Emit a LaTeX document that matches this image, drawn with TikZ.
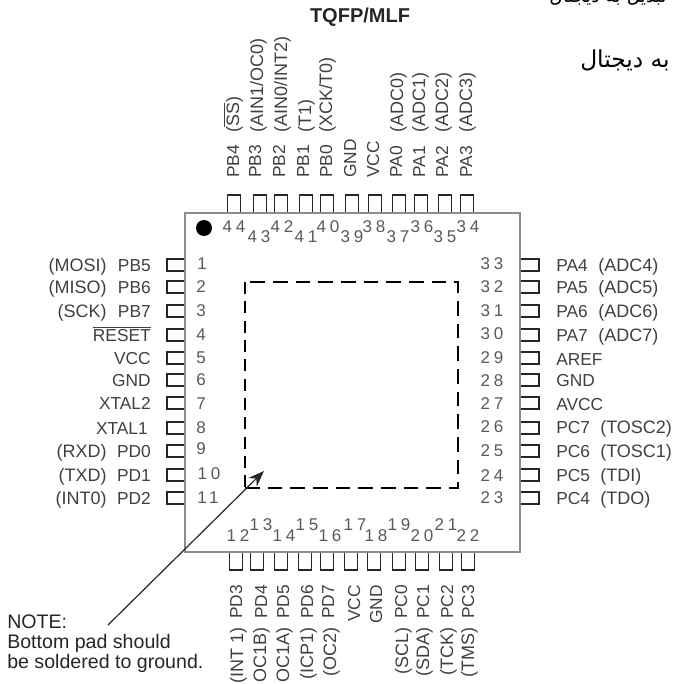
\documentclass[tikz,border=0pt]{standalone}
\usepackage{xcolor}
\usepackage{fontspec}
\setmainfont{Liberation Sans}
\newfontfamily\numfont[LetterSpace=22]{Liberation Sans}
\newfontfamily\arabicfont[Script=Arabic]{DejaVu Sans}
\TeXXeTstate=1
\usetikzlibrary{arrows.meta,positioning,calc}
\definecolor{pkggray}{gray}{0.55}
\definecolor{lblgray}{gray}{0.25}
\definecolor{numgray}{gray}{0.35}
\tikzset{
    pinbox/.style={draw=black!85,line width=0.9pt,fill=white},
    lbl/.style={inner sep=0pt,text=lblgray,font=\fontsize{13}{15}\selectfont},
    altlbl/.style={lbl,font=\fontsize{13.5}{15}\selectfont},
    vlbl/.style={rotate=90,anchor=base west},
    wlbl/.style={rotate=90,anchor=base east},
    pinnum/.style={inner sep=0pt,text=numgray,font=\fontsize{12.75}{15}\numfont},
    arabic/.style={inner sep=0pt,anchor=base east,text=black,font=\fontsize{17.5}{20}\arabicfont},
}
\begin{document}
\begin{tikzpicture}[x=0.75pt,y=-0.75pt]
    \useasboundingbox (0,0) rectangle (673,684);

    % Pins
    \foreach \x in {234,260,281,306,327,352,375,399,421,445,467}
        \draw [pinbox] (\x-6.5,195) rectangle (\x+6.5,213);
    \foreach \x in {236,257,281,305,327,351,374,399,422,446,468}
        \draw [pinbox] (\x-6.5,552) rectangle (\x+6.5,570);
    \foreach \y in {265,287,311,335,358,380,403,428,451,475,498} {
        \draw [pinbox] (167,\y-6) rectangle (185,\y+6);
        \draw [pinbox] (520,\y-6) rectangle (539,\y+6);
    }

    % Package and pad
    \draw [pkggray,line width=1.3pt] (185,213) rectangle (520,552);
    \fill [black] (204,228) circle (8);
    \draw [line width=1pt,dash pattern=on 11pt off 6pt] (245,488) -- (458,488) -- (458,282) -- (245,282);
    \draw [line width=1.8pt,dash pattern=on 9pt off 5.5pt] (245,282) -- (245,488);

    % Title
    \node (title) [inner sep=0pt,text=black!85,font=\fontsize{15}{18}\bfseries\selectfont] at (360,17) {TQFP/MLF};

    % Top labels
    \foreach \x/\n in {233/PB4,255/PB3,279/PB2,303/PB1,326/PB0,350/GND,373/VCC,396/PA0,419/PA1,442/PA2,466/PA3}
        \node (top\n) [lbl,vlbl] at (\x+6,178) {\n};
    \node (topss) [altlbl,vlbl] at (239,133) {($\overline{\mbox{SS}}$)};
    \foreach \x/\n/\t in {257/ain1/{(AIN1/OC0)},281/ain0/{(AIN0/INT2)},305/tone/{(T1)},326/xck/{(XCK/T0)},397/adc0/{(ADC0)},419/adc1/{(ADC1)},442/adc2/{(ADC2)},466/adc3/{(ADC3)}}
        \node (top\n) [altlbl,vlbl] at (\x+6,133) {\t};

    % Top numbers
    \foreach \x/\y/\n in {234/227/44,259/237/43,282/227/42,306/237/41,328/227/40,352/237/39,374/227/38,398/237/37,422/227/36,445/237/35,468/227/34}
        \node (num\n) [pinnum] at (\x,\y) {\n};

    % Left side
    \foreach \y/\n in {265/PB5,287/PB6,311/PB7,403/XTAL2,451/PD0,475/PD1,498/PD2,358/VCC,380/GND}
        \node (left\n) [lbl,anchor=base east] at (151,\y+6) {\n};
    \node (leftRESET) [lbl,anchor=base east] at (151,341) {$\overline{\mbox{RESET}}$};
    \node (leftXTAL1) [lbl,anchor=base east] at (148,434) {XTAL1};
    \foreach \y/\n/\t in {265/mosi/(MOSI),287/miso/(MISO),311/sck/(SCK),451/rxd/(RXD),475/txd/(TXD),498/intz/(INT0)}
        \node (left\n) [altlbl,anchor=base east] at (107,\y+6) {\t};
    \foreach \x/\y/\n in {202/264/1,201/287/2,201/311/3,201/335/4,201/358/5,201/380/6,201/404/7,201/428/8,201/449/9,209/474/10,208/498/11}
        \node (num\n) [pinnum] at (\x,\y) {\n};

    % Right side
    \foreach \y/\n in {265/PA4,287/PA5,311/PA6,335/PA7,359/AREF,380/GND,404/AVCC,427/PC7,451/PC6,475/PC5,498/PC4}
        \node (right\n) [lbl,anchor=base west] at (556,\y+6) {\n};
    \foreach \y/\n/\t in {265/adc4/(ADC4),287/adc5/(ADC5),311/adc6/(ADC6),335/adc7/(ADC7)}
        \node (right\n) [altlbl,anchor=base west] at (598,\y+6) {\t};
    \foreach \y/\n/\t in {427/tosc2/(TOSC2),451/tosc1/(TOSC1),475/tdi/(TDI),498/tdo/(TDO)}
        \node (right\n) [altlbl,anchor=base west] at (600,\y+6) {\t};
    \foreach \y/\n in {264/33,287/32,311/31,334/30,358/29,381/28,404/27,427/26,451/25,476/24,498/23}
        \node (num\n) [pinnum] at (492,\y) {\n};

    % Bottom numbers
    \foreach \x/\y/\n in {238/536/12,261/525/13,284/536/14,307/525/15,330/536/16,355/525/17,376/536/18,399/525/19,422/536/20,446/525/21,468/536/22}
        \node (num\n) [pinnum] at (\x,\y) {\n};

    % Bottom labels
    \foreach \x/\n in {236/PD3,261/PD4,283/PD5,307/PD6,328/PD7,354/VCC,376/GND,401/PC0,423/PC1,447/PC2,468/PC3}
        \node (bot\n) [lbl,wlbl] at (\x+6,585) {\n};
    \foreach \x/\n/\t in {237/intone/(INT 1),260/ocb/OC1B),283/oca/OC1A),307/icp/(ICP1),330/octwo/(OC2),402/scl/(SCL),423/sda/(SDA),447/tck/(TCK),468/tms/(TMS)}
        \node (bot\n) [altlbl,wlbl] at (\x+6,627) {\t};

    % Note
    \node (note) [lbl,text=black!85,anchor=north west,align=left,font=\fontsize{14.7}{15}\selectfont] at (7,615) {NOTE:\\Bottom pad should\\be soldered to ground.};
    \coordinate (noteend) at (108,625);
    \coordinate (padtip) at (264,471);
    \draw [-{Stealth[length=12pt,width=9pt]},line width=0.9pt,black!85] (noteend) -- (padtip);

    % Arabic text
    \node (arabone) [arabic,font=\fontsize{14}{15}\arabicfont] at (667,3) {\beginR تبدیل به دیجتال\endR};
    \node (arabtwo) [arabic] at (670,68) {\beginR به دیجتال\endR};
\end{tikzpicture}
\end{document}
